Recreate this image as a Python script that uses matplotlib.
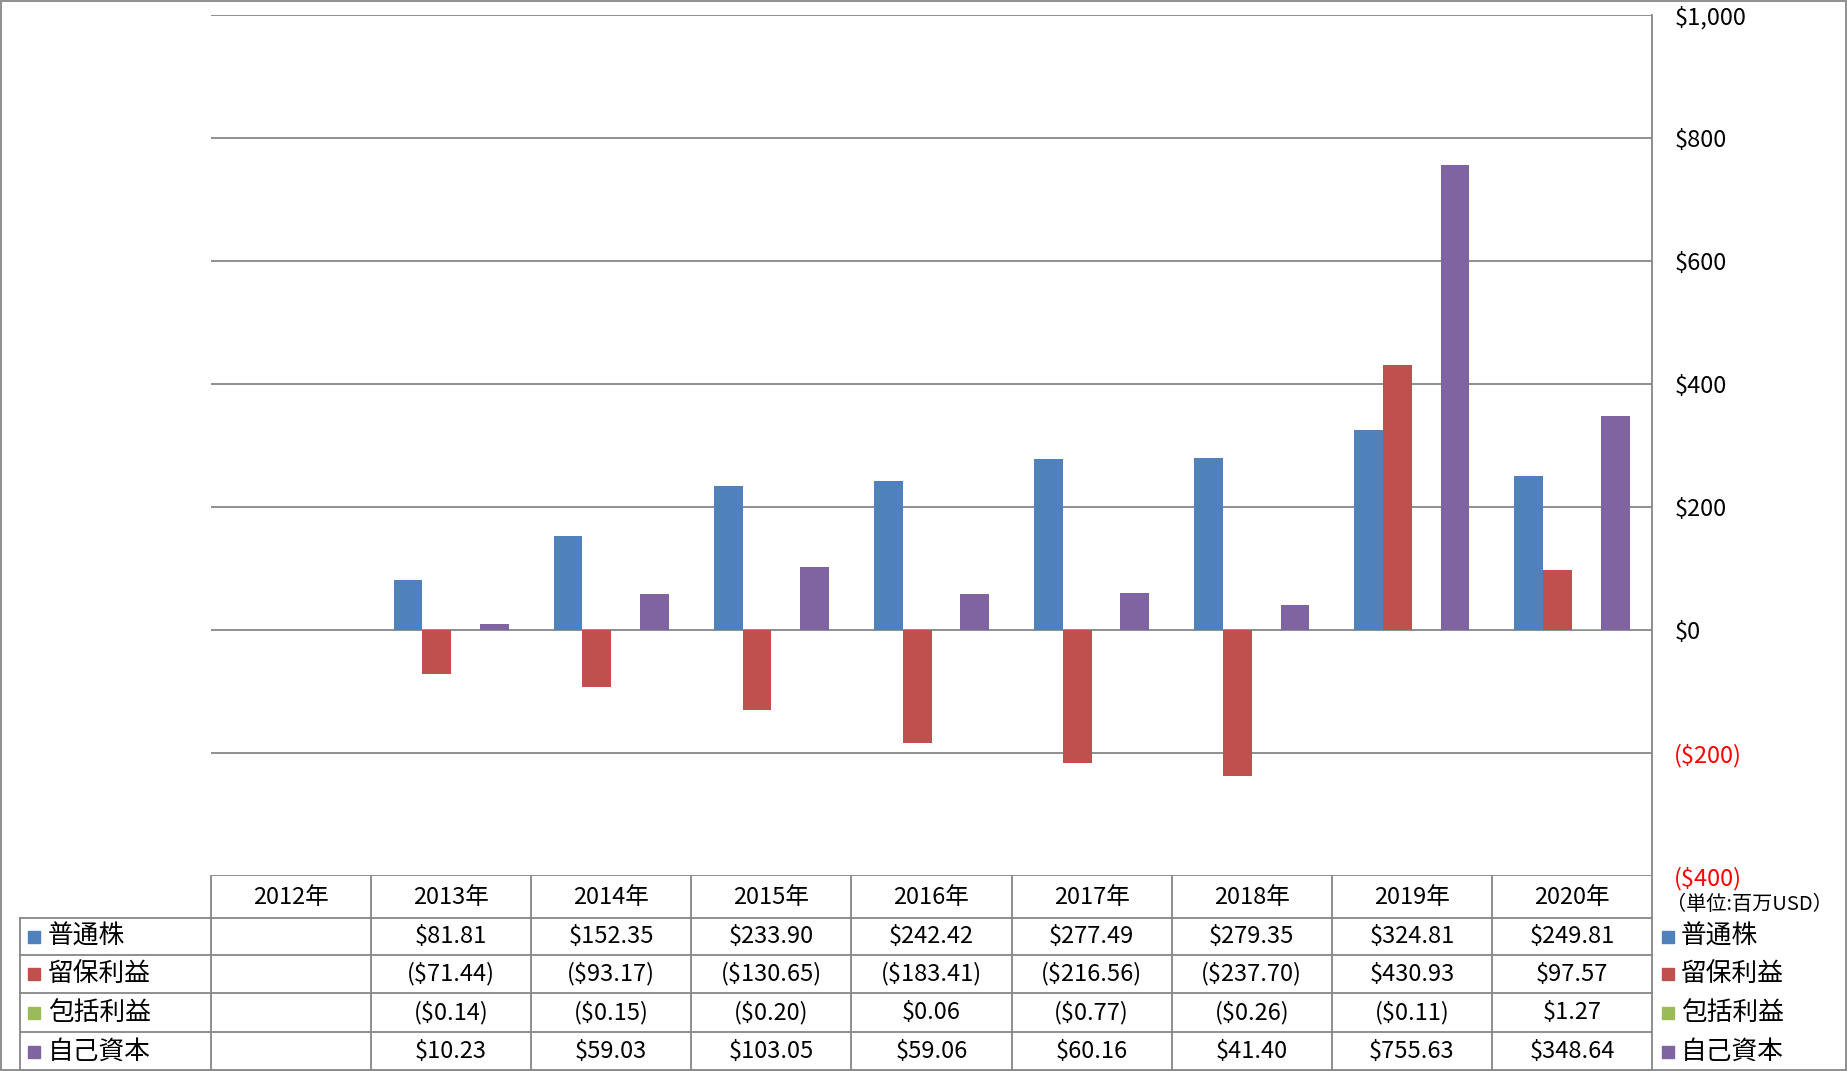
import numpy as np
import matplotlib.pyplot as plt
from matplotlib.patches import Rectangle

plt.rcParams['font.family'] = ['Noto Sans CJK JP', 'DejaVu Sans']

years = ['2012年', '2013年', '2014年', '2015年', '2016年', '2017年', '2018年', '2019年', '2020年']
series = ['普通株', '留保利益', '包括利益', '自己資本']
colors = ['#4F81BD', '#C0504D', '#9BBB59', '#8064A2']
common = [np.nan, 81.81, 152.35, 233.90, 242.42, 277.49, 279.35, 324.81, 249.81]
retained = [np.nan, -71.44, -93.17, -130.65, -183.41, -216.56, -237.70, 430.93, 97.57]
comprehensive = [np.nan, -0.14, -0.15, -0.20, 0.06, -0.77, -0.26, -0.11, 1.27]
equity = [np.nan, 10.23, 59.03, 103.05, 59.06, 60.16, 41.40, 755.63, 348.64]
yticks = [-400, -200, 0, 200, 400, 600, 800, 1000]
unit = '（単位:百万USD）'

values = [common, retained, comprehensive, equity]

def money(v):
    if np.isnan(v):
        return ''
    if v < 0:
        return '(${:,.2f})'.format(-v)
    return '${:,.2f}'.format(v)

def tick_money(v):
    if v < 0:
        return '(${:,})'.format(-v)
    return '${:,}'.format(v)

W, H = 1847, 1071
grid_c = '#868686'
left, right, top, bottom = 211, 1652, 15, 876
rows = [876, 918, 955, 993, 1032, 1071]

fig = plt.figure(figsize=(W / 100, H / 100), dpi=100)
ax = fig.add_axes([left / W, (H - bottom) / H, (right - left) / W, (bottom - top) / H])
ax.patch.set_visible(False)

x = np.arange(len(years))
bw = 0.18
for i, (name, vals, c) in enumerate(zip(series, values, colors)):
    ax.bar(x + (i - 1.5) * bw, vals, bw, color=c, label=name, zorder=3)

for t in yticks:
    ax.axhline(t, color=grid_c, lw=1.3, zorder=2)
ax.set_xlim(-0.5, len(years) - 0.5)
ax.set_ylim(-400, 1000)
for s in ax.spines.values():
    s.set_visible(False)
ax.set_xticks([])
ax.yaxis.tick_right()
ax.set_yticks(yticks)
ax.set_yticklabels([tick_money(t) for t in yticks])
for lbl, t in zip(ax.get_yticklabels(), yticks):
    if t < 0:
        lbl.set_color('red')
ax.tick_params(axis='y', length=0, pad=16, labelsize=17)

# table and frame drawn in pixel coordinates
ov = fig.add_axes([0, 0, 1, 1], zorder=5)
ov.set_xlim(0, W)
ov.set_ylim(H, 0)
ov.axis('off')
ov.patch.set_visible(False)

cols = np.linspace(left, right, len(years) + 1)
for y in rows[1:]:
    ov.plot([20, right], [y, y], color=grid_c, lw=1.3)
ov.plot([20, 20], [rows[1], rows[-1]], color=grid_c, lw=1.3)
for cx in cols[:-1]:
    ov.plot([cx, cx], [rows[0], rows[-1]], color=grid_c, lw=1.3)
ov.plot([right, right], [top, H], color=grid_c, lw=1.3)
ov.add_patch(Rectangle((0.5, 0.5), W - 1.5, H - 1.5, fill=False, ec=grid_c, lw=1.3))

centers = (cols[:-1] + cols[1:]) / 2
ymid = [(rows[k] + rows[k + 1]) / 2 for k in range(len(rows) - 1)]
for cx, yr in zip(centers, years):
    ov.text(cx, ymid[0], yr, ha='center', va='center', fontsize=17)
for r, (name, vals, c) in enumerate(zip(series, values, colors)):
    yc = ymid[r + 1]
    for cx, v in zip(centers, vals):
        ov.text(cx, yc, money(v), ha='center', va='center', fontsize=17)
    ov.add_patch(Rectangle((28, yc - 6), 12, 12, color=c))
    ov.text(48, yc, name, ha='left', va='center', fontsize=18.5)
    ov.add_patch(Rectangle((1662, yc - 6), 12, 12, color=c))
    ov.text(1681, yc, name, ha='left', va='center', fontsize=18.5)

ov.text(1666, 905, unit, ha='left', va='center', fontsize=14.5)

fig.savefig('out.png', dpi=100)
